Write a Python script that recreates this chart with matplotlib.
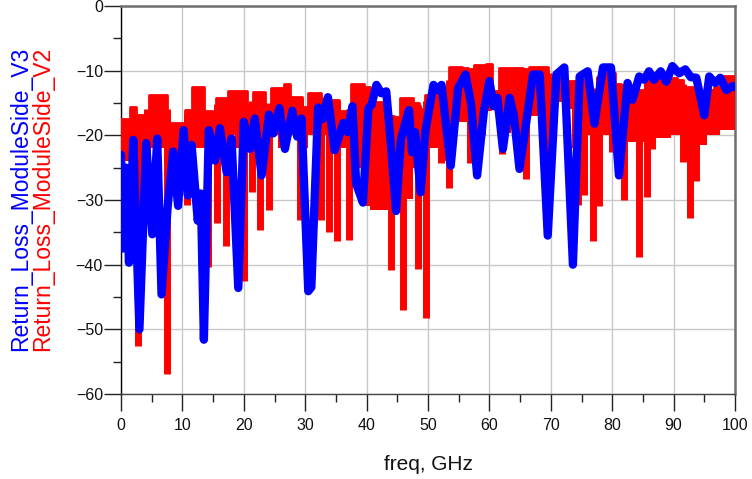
import numpy as np
import matplotlib
matplotlib.use("Agg")
import matplotlib.pyplot as plt
from matplotlib.ticker import MultipleLocator

# ---- data ----
# Return_Loss_ModuleSide_V3 (blue): breakpoints (GHz, dB)
v3_freq = [0.0, 0.3, 0.8, 1.3, 2.0, 3.0, 4.1, 5.1, 5.9, 6.6, 7.6, 8.5, 9.3, 10.2, 10.9,
           11.5, 12.5, 13.0, 13.5, 14.3, 15.3, 16.1, 17.2, 18.0, 19.1, 20.0, 21.0, 21.8,
           22.9, 24.1, 24.8, 25.8, 26.7, 27.9, 28.7, 29.4, 30.5, 31.0, 32.1, 32.8, 33.7,
           34.8, 36.2, 36.9, 37.7, 38.3, 39.4, 40.3, 40.8, 41.6, 42.4, 43.2, 44.0, 44.8,
           45.6, 46.9, 47.4, 47.9, 48.8, 49.6, 50.9, 51.5, 52.2, 53.7, 54.9, 56.1, 57.0,
           58.0, 59.1, 60.0, 60.7, 61.3, 62.2, 63.3, 64.0, 64.9, 65.7, 67.1, 68.2, 69.5,
           70.9, 72.2, 73.6, 74.7, 76.0, 77.1, 78.5, 79.8, 81.1, 82.5, 83.3, 84.4, 85.2,
           86.0, 86.8, 87.9, 88.8, 89.8, 90.9, 91.9, 92.8, 93.7, 95.0, 95.8, 96.8, 97.6,
           98.6, 99.6, 100.0]
v3_db = [-23, -37.5, -25, -39.7, -20.7, -50, -21.2, -35.3, -20.5, -44.6, -31, -22.5, -30.9,
         -19.2, -29.3, -21.5, -33.2, -29, -51.6, -19.2, -23.9, -18.9, -25.7, -20.5, -43.6,
         -17.9, -22.1, -17.4, -26.2, -16.8, -19.7, -15.8, -22.1, -16.2, -20.2, -17.4, -44.1,
         -43.5, -15.7, -17.5, -14.1, -22.3, -18.1, -19.5, -15.5, -27.5, -30.4, -15.8, -15.3,
         -12.2, -13.5, -13.2, -22, -31.7, -20.5, -16.1, -22.6, -19.5, -28.8, -19.2, -12.2,
         -13, -12.2, -24.7, -12.7, -10.6, -15, -26.2, -16.3, -11.6, -15.5, -14.2, -22.1,
         -14.2, -17, -25.2, -20, -10.6, -10.6, -35.5, -10.6, -9.5, -40, -10.9, -10.1, -18.2,
         -9.5, -9.5, -26.2, -11.9, -14.5, -10.9, -11.4, -10.1, -11.4, -10.1, -11.7, -9.3,
         -10.4, -9.8, -11, -11.1, -16.9, -10.9, -11.9, -11.1, -13, -12.4, -12.5]

# Return_Loss_ModuleSide_V2 (red): dense trace read as an upper envelope and a
# lower band edge at every 1 GHz, plus the narrow deep dips
v2_freq = list(range(0, 101))
v2_top = [-17.4, -17.4, -15.6, -16.9, -16.9, -13.7, -13.7, -13.7, -18.1, -18.1,
          -18.1, -16.1, -12.6, -12.6, -16.3, -16.3, -14.3, -14.3, -13.1, -13.1,
          -13.1, -15.3, -13.3, -13.3, -15.3, -12.7, -12.7, -12.0, -14.0, -14.0,
          -15.6, -13.5, -13.5, -14.5, -14.5, -14.5, -16.3, -16.3, -12.0, -12.0,
          -12.5, -14.8, -14.8, -14.8, -17.0, -17.1, -14.2, -14.2, -15.0, -16.0,
          -13.8, -13.8, -13.5, -13.5, -9.4, -9.4, -9.6, -9.8, -9.1, -9.1,
          -8.9, -13.1, -9.6, -9.6, -9.6, -9.6, -9.8, -9.4, -9.4, -9.4,
          -11.0, -11.2, -11.2, -11.6, -11.6, -11.4, -11.4, -13.0, -11.0, -10.4,
          -10.4, -12.0, -12.2, -12.5, -13.0, -13.0, -11.2, -11.2, -11.2, -11.2,
          -11.2, -11.4, -12.5, -12.5, -13.0, -13.5, -13.0, -12.5, -10.9, -10.9,
          -10.9]
v2_floor = [-23, -24, -22, -24, -24, -22, -22, -22, -24, -26,
            -22, -24, -22, -22, -22, -22, -20, -22, -20, -22,
            -20, -21, -20, -22, -20, -20, -22, -20, -20, -20,
            -22, -20, -20, -20, -22, -22, -22, -22, -22, -25,
            -30.9, -31.5, -31.5, -31.5, -31, -31, -29, -29.8, -25, -25,
            -22, -22, -22, -24, -20, -18, -18, -20, -20, -20,
            -16.3, -16, -19.6, -19.6, -17, -22.3, -18.1, -17, -17, -20,
            -16, -14.8, -14.8, -16, -22, -20, -20, -20, -18, -20,
            -22.6, -20, -21, -21, -21, -21, -20.4, -20.4, -20.4, -20.4,
            -20, -20, -24, -24, -21.5, -21.5, -20, -20, -19.2, -19.2,
            -19.2]
v2_dip_freq = [2.8, 4.3, 5.9, 7.5, 10.8, 14.2, 15.6, 17.1, 20.0, 21.3, 22.6, 24.1,
               29.2, 32.5, 33.9, 35.2, 37.1, 44.0, 46.0, 48.3, 49.6, 52.1, 53.5, 56.9,
               62.0, 66.0, 69.6, 74.4, 75.4, 76.8, 77.9, 80.0, 82.0, 84.4, 85.6, 86.5,
               91.6, 92.7, 93.7]
v2_dip_db = [-52.5, -28.7, -34.6, -56.9, -30.8, -40.3, -33.6, -37.1, -42.6, -28.7,
             -34.6, -31.5, -33.1, -33.1, -34.9, -36.4, -36.2, -40.8, -47.0, -40.7,
             -48.3, -24.3, -28.2, -24.3, -22.9, -26.7, -25.1, -30.8, -29.3, -36.4,
             -31.0, -22.6, -30.0, -38.8, -29.5, -22.1, -24.1, -32.8, -27.0]

x_ticks = [0, 10, 20, 30, 40, 50, 60, 70, 80, 90, 100]
y_ticks = [-60, -50, -40, -30, -20, -10, 0]
label_v3 = "Return_Loss_ModuleSide_V3"
label_v2 = "Return_Loss_ModuleSide_V2"
x_label = "freq, GHz"

# ---- figure ----
plt.rcParams['font.family'] = ['Liberation Sans', 'DejaVu Sans']
W, H = 752, 479
fig = plt.figure(figsize=(W / 100, H / 100), dpi=100)
L, R, T, B = 121, 735, 6, 394
ax = fig.add_axes([L / W, 1 - B / H, (R - L) / W, (B - T) / H])

red = '#ff0000'
blue = '#0000ff'
ax.fill_between(v2_freq, v2_floor, v2_top, step='mid', color=red, lw=0, zorder=3)
ax.step(v2_freq, v2_top, where='mid', color=red, lw=2.0, zorder=3)
top_at_dip = np.interp(v2_dip_freq, v2_freq, v2_top)
ax.vlines(v2_dip_freq, v2_dip_db, top_at_dip, color=red, lw=5.0, zorder=3)

ax.plot(v3_freq, v3_db, color=blue, lw=6.0, solid_joinstyle='round',
        solid_capstyle='round', zorder=4)

ax.set_xlim(0, 100)
ax.set_ylim(-60, 0)
ax.set_xticks(x_ticks)
ax.set_yticks(y_ticks)
ax.xaxis.set_minor_locator(MultipleLocator(5))
ax.yaxis.set_minor_locator(MultipleLocator(5))
ax.grid(True, which='major', color='#c8c8c8', lw=1.0, zorder=0)
ax.set_axisbelow(True)

ax.tick_params(which='major', direction='out', length=12, width=1.0,
               color='#222222', labelsize=11.5, labelcolor='#111111')
ax.tick_params(axis='y', which='major', pad=1)
ax.tick_params(axis='x', which='major', pad=5)
ax.tick_params(which='minor', direction='out', length=5.5, width=1.0, color='#222222')

ax.spines['left'].set_color('#000000')
ax.spines['left'].set_linewidth(1.0)
ax.spines['bottom'].set_color('#444444')
ax.spines['bottom'].set_linewidth(1.0)
for s in ('top', 'right'):
    ax.spines[s].set_color('#707070')
    ax.spines[s].set_linewidth(1.8)

fig.text(21 / W, 1 - 199 / H, label_v3, color=blue, rotation=90,
         ha='center', va='center', fontsize=16.5)
fig.text(43 / W, 1 - 199 / H, label_v2, color=red, rotation=90,
         ha='center', va='center', fontsize=16.5)
fig.text(428 / W, 1 - 465 / H, x_label, color='#111111', ha='center',
         va='center', fontsize=15)

fig.savefig("out.png", dpi=100)
